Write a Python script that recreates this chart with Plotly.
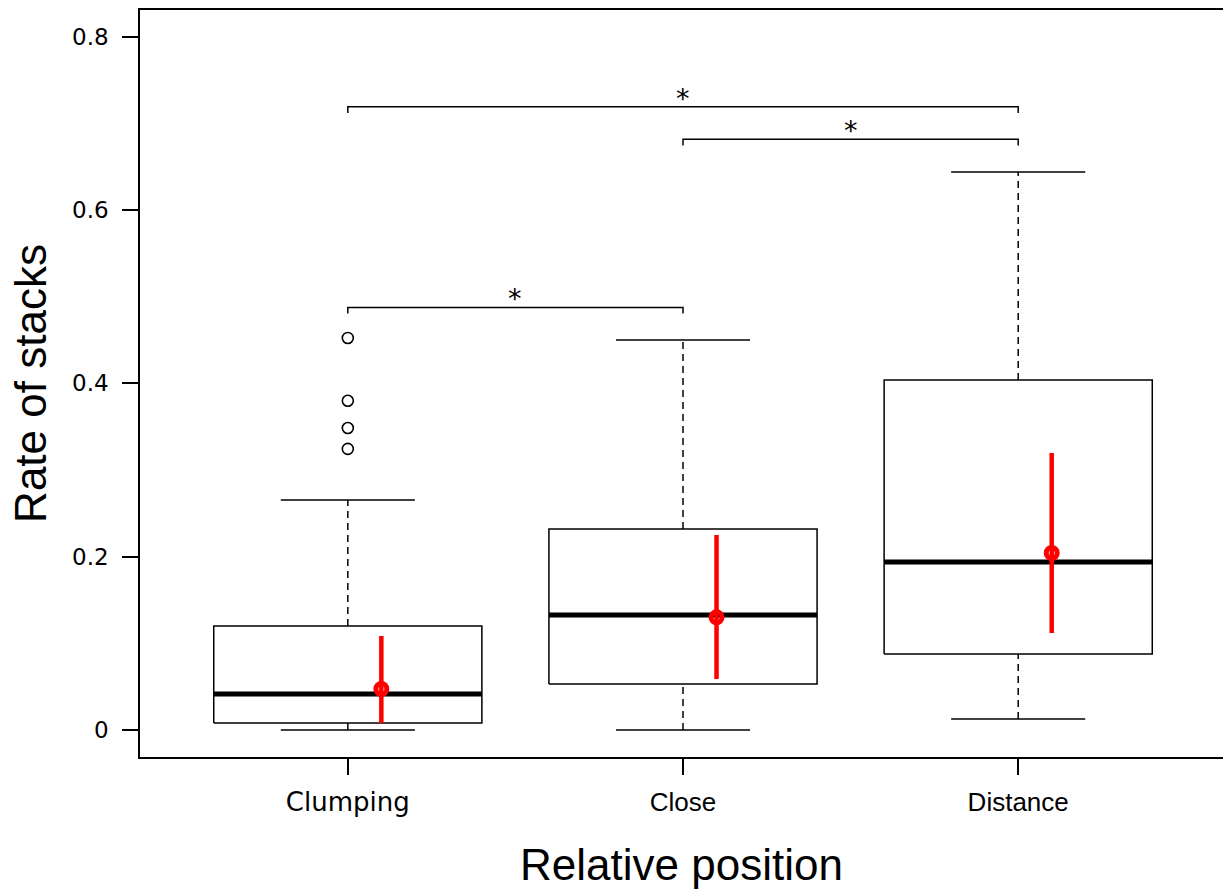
import plotly.graph_objects as go

# Group labels and x positions
categories = ["Clumping", "Close", "Distance"]
positions = [1, 2, 3]

# Box-plot summary statistics for the rate of stacks
lower_whisker = [0.0, 0.0, 0.0127]
q1 = [0.008, 0.0531, 0.0877]
median = [0.0416, 0.1328, 0.194]
q3 = [0.120, 0.232, 0.404]
upper_whisker = [0.2655, 0.450, 0.644]

# Outliers (group index, value)
outlier_group = [1, 1, 1, 1]
outlier_value = [0.4525, 0.380, 0.3486, 0.3244]

# Mean and interval shown in red beside each box
mean_value = [0.0473, 0.130, 0.2043]
ci_low = [0.008, 0.0589, 0.112]
ci_high = [0.1085, 0.225, 0.3198]

# Significance brackets: (left group, right group, height)
bracket_left = [1, 2, 1]
bracket_right = [2, 3, 3]
bracket_height = [0.4877, 0.6817, 0.7192]
bracket_label = ["*", "*", "*"]

y_ticks = [0, 0.2, 0.4, 0.6, 0.8]
y_tick_text = ["0", "0.2", "0.4", "0.6", "0.8"]

BOX_HALF = 0.4
CAP_HALF = 0.2
MEAN_OFFSET = 0.1
TICK_DROP = 0.007

fig = go.Figure()

def add_line(xs, ys, width=1.5, color="black", dash=None):
    fig.add_trace(go.Scatter(
        x=xs, y=ys, mode="lines",
        line=dict(color=color, width=width, dash=dash),
        hoverinfo="skip", showlegend=False,
    ))

for i, x in enumerate(positions):
    # whiskers (dashed) and caps
    add_line([x, x], [q3[i], upper_whisker[i]], dash="7px,5px")
    add_line([x, x], [lower_whisker[i], q1[i]], dash="7px,5px")
    add_line([x - CAP_HALF, x + CAP_HALF], [upper_whisker[i]] * 2)
    add_line([x - CAP_HALF, x + CAP_HALF], [lower_whisker[i]] * 2)
    # box outline
    add_line([x - BOX_HALF, x + BOX_HALF, x + BOX_HALF, x - BOX_HALF, x - BOX_HALF],
             [q1[i], q1[i], q3[i], q3[i], q1[i]])
    # median
    add_line([x - BOX_HALF, x + BOX_HALF], [median[i]] * 2, width=5)

# outliers
fig.add_trace(go.Scatter(
    x=outlier_group, y=outlier_value, mode="markers",
    marker=dict(symbol="circle-open", size=11, color="black", line=dict(width=1.6)),
    hoverinfo="skip", showlegend=False,
))

# means with intervals
for i, x in enumerate(positions):
    add_line([x + MEAN_OFFSET] * 2, [ci_low[i], ci_high[i]], width=4.5, color="red")
fig.add_trace(go.Scatter(
    x=[p + MEAN_OFFSET for p in positions], y=mean_value, mode="markers",
    marker=dict(symbol="circle-open", size=11, color="red", line=dict(width=5)),
    hoverinfo="skip", showlegend=False,
))

# significance brackets
for a, b, h, lab in zip(bracket_left, bracket_right, bracket_height, bracket_label):
    add_line([a, a, b, b], [h - TICK_DROP, h, h, h - TICK_DROP], width=1.5)
    fig.add_annotation(
        x=(a + b) / 2, y=h, text=lab, showarrow=False,
        xanchor="center", yanchor="bottom", yshift=-9,
        font=dict(family="DejaVu Sans", size=27, color="black"),
    )

tick_fonts = ["DejaVu Sans", "Liberation Sans", "Liberation Sans"]
x_tick_text = [f'<span style="font-family:{f}">{c}</span>' for c, f in zip(categories, tick_fonts)]

fig.update_layout(
    width=1223, height=891,
    margin=dict(l=140, r=0, t=10, b=134),
    plot_bgcolor="white", paper_bgcolor="white",
    font=dict(family="DejaVu Sans", color="black"),
    xaxis=dict(
        range=[0.38, 3.611], tickvals=positions, ticktext=x_tick_text,
        showgrid=False, zeroline=False,
        showline=True, linecolor="black", linewidth=1.5, mirror=True,
        ticks="outside", ticklen=16, tickwidth=1.5, tickcolor="black",
        ticklabelstandoff=5,
        tickfont=dict(size=26, family="Liberation Sans"),
        title=dict(text="Relative position", standoff=33,
                   font=dict(family="Liberation Sans", size=44)),
    ),
    yaxis=dict(
        range=[-0.0312, 0.831], tickvals=y_ticks, ticktext=y_tick_text,
        showgrid=False, zeroline=False,
        showline=True, linecolor="black", linewidth=1.5, mirror=False,
        ticks="outside", ticklen=16, tickwidth=1.5, tickcolor="black",
        ticklabelstandoff=9,
        tickfont=dict(size=23, family="DejaVu Sans"),
        title=dict(text="Rate of stacks", standoff=12,
                   font=dict(family="Liberation Sans", size=44)),
    ),
)

fig.write_html("out.html")
